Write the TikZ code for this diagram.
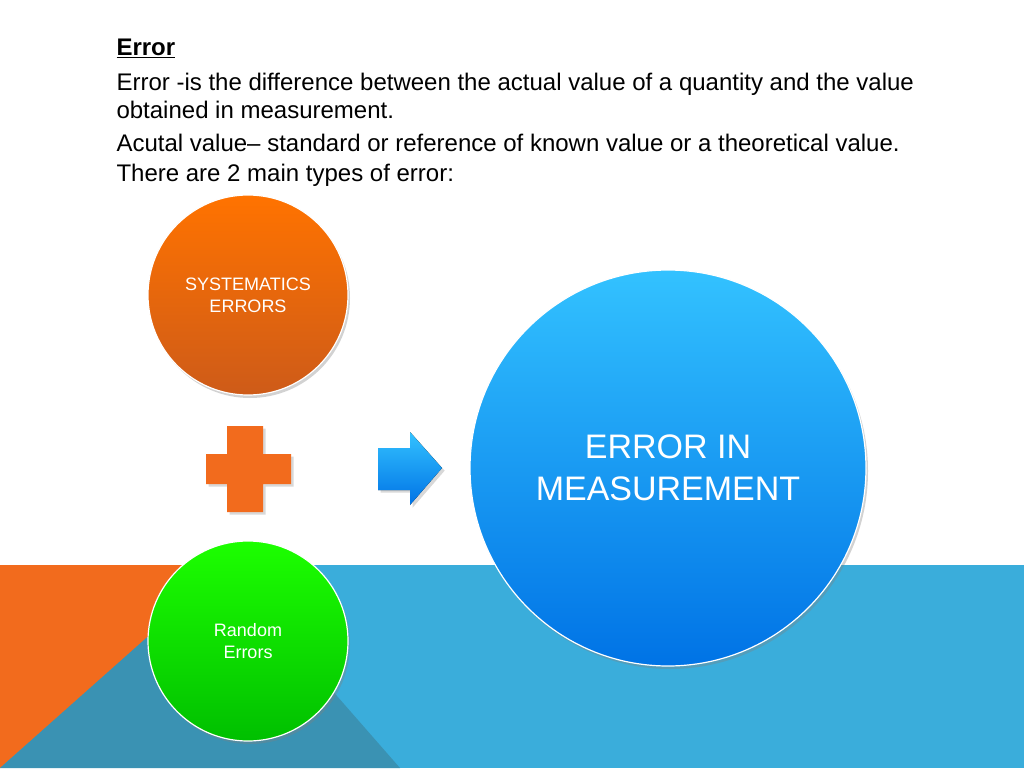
\documentclass[tikz,border=0pt]{standalone}
\usepackage{fontspec}
\setmainfont{Liberation Sans}
\usetikzlibrary{shadows}
\definecolor{bandorange}{HTML}{F26B1D}
\definecolor{bandblue}{HTML}{3AADDB}
\definecolor{darkblue}{HTML}{3A92B3}
\tikzset{ball/.style={circle,minimum size=#1,inner sep=0pt,align=center,text=white,draw=white,line width=1.2pt,drop shadow={opacity=0.35,shadow xshift=2pt,shadow yshift=-3pt}},
body/.style={anchor=base west,font=\fontsize{24}{28}\selectfont}}
\begin{document}
\begin{tikzpicture}[x=1pt,y=-1pt]
\useasboundingbox (0,0) rectangle (1024,768);
\fill[white] (0,0) rectangle (1024,768);
\fill[bandblue] (0,565) rectangle (1024,768);
\fill[bandorange] (0,565) rectangle (230,565) -- (0,768) -- cycle;
\fill[bandorange] (0,565) -- (230,565) -- (0,768) -- cycle;
\fill[darkblue] (0,768) -- (225,568) -- (400,768) -- cycle;
\node[body] (t0) at (113,56) {\textbf{\underline{Error}}};
\node[body] (t1) at (113,90) {Error -is the difference between the actual value of a quantity and the value};
\node[body] (t2) at (113,118) {obtained in measurement.};
\node[body] (t3) at (113,151) {Acutal value– standard or reference of known value or a theoretical value.};
\node[body] (t4) at (113,181) {There are 2 main types of error:};
\node[ball=200pt,top color=orange!90!red,bottom color=bandorange!85!black,font=\fontsize{18}{22}\selectfont] (sys) at (248,295) {SYSTEMATICS\\ERRORS};
\node[ball=200pt,top color=green!85!lime,bottom color=green!75!black,font=\fontsize{18}{22}\selectfont] (rnd) at (248,641) {Random\\Errors};
\node[ball=396pt,top color=cyan!70!blue!80,bottom color=cyan!50!blue!90!black,font=\fontsize{34}{42}\selectfont] (err) at (668,468) {ERROR IN\\MEASUREMENT};
\fill[bandorange,drop shadow={opacity=0.3}] (227,426) -- (263,426) -- (263,454) -- (291,454) -- (291,484) -- (263,484) -- (263,512) -- (227,512) -- (227,484) -- (206,484) -- (206,454) -- (227,454) -- cycle;
\node[coordinate] (plus) at (248,468) {};
\fill[top color=cyan!70!blue!80,bottom color=cyan!50!blue!90!black,drop shadow={opacity=0.3}] (378,448) -- (410,448) -- (410,432) -- (442,468) -- (410,505) -- (410,490) -- (378,490) -- cycle;
\end{tikzpicture}
\end{document}
